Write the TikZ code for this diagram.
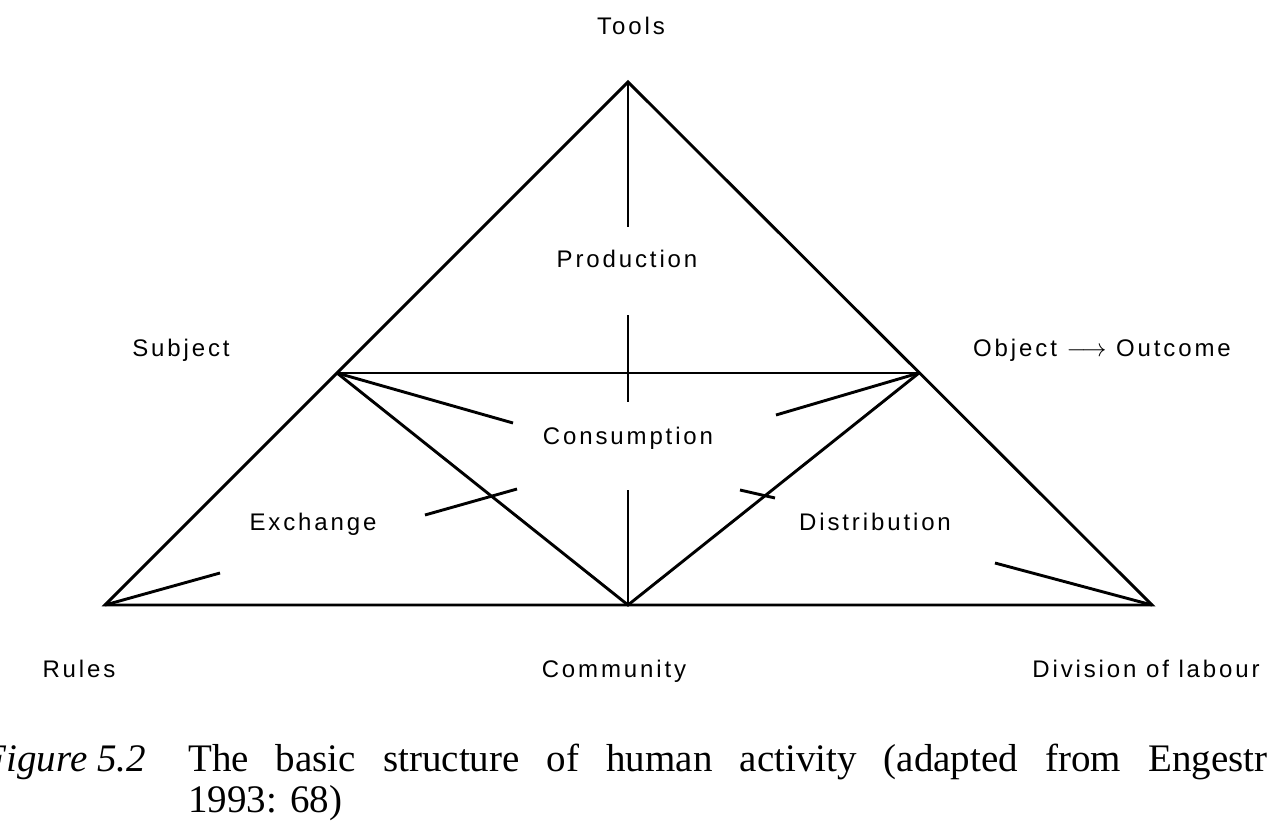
\documentclass[tikz,border=0pt]{standalone}
\usepackage{fontspec}
\newfontfamily\labfont[LetterSpace=12]{Liberation Sans}
\newfontfamily\capfont{Liberation Serif}
\begin{document}
\begin{tikzpicture}[x=1pt,y=-1pt,
  lab/.style={font=\labfont\fontsize{24}{28}\selectfont, inner sep=0pt, anchor=base},
  capt/.style={font=\capfont\fontsize{39}{42}\selectfont, inner sep=0pt},
  edge/.style={line width=2.9pt, line join=miter, line cap=butt}]
\useasboundingbox (0,0) rectangle (1268,834);
\clip (0,0) rectangle (1268,834);
\fill[white] (0,0) rectangle (1268,834);
% vertices
\coordinate (T) at (628,82);
\coordinate (L) at (105,605);
\coordinate (R) at (1152,605);
\coordinate (S) at (337,373);
\coordinate (O) at (919,373);
\coordinate (C) at (628,605);
% gap ends
\coordinate (v1) at (628,227);
\coordinate (v2) at (628,315);
\coordinate (v3) at (628,402);
\coordinate (v4) at (628,490);
\coordinate (sc) at (513,423);
\coordinate (oc) at (776,415);
\coordinate (e1) at (220,573);
\coordinate (e2) at (425,515);
\coordinate (e3) at (517,489);
\coordinate (d1) at (995,563);
\coordinate (d2) at (775,498);
\coordinate (d3) at (740,490);
% lines
\draw[edge] (T) -- (L) -- (R) -- cycle;
\draw[edge] (S) -- (O);
\draw[edge] (S) -- (C) -- (O);
\draw[edge] (T) -- (v1);
\draw[edge] (v2) -- (v3);
\draw[edge] (v4) -- (C);
\draw[edge] (S) -- (sc);
\draw[edge] (O) -- (oc);
\draw[edge] (L) -- (e1);
\draw[edge] (e2) -- (e3);
\draw[edge] (R) -- (d1);
\draw[edge] (d2) -- (d3);
% labels
\node[lab] (tools) at (631,35) {Tools};
\node[lab] (prod) at (627,268) {Production};
\node[lab] (subj) at (181,356) {Subject};
\node[lab, anchor=base west] (obj) at (973,356) {Object {\fontspec{Latin Modern Math}$\longrightarrow$} Outcome};
\node[lab] (cons) at (628,444) {Consumption};
\node[lab] (exch) at (313,530) {Exchange};
\node[lab] (dist) at (875,530) {Distribution};
\node[lab] (rules) at (79,677) {Rules};
\node[lab] (comm) at (614,677) {Community};
\node[lab] (div) at (1146,677) {Division of labour};
% caption
\node[capt, anchor=base east] (fig) at (146,771) {\itshape Figure 5.2};
\node[capt, anchor=base west] (cap1) at (188,771) {\makebox[1079pt][s]{The basic structure of human activity (adapted from Engestr}};
\node[capt, anchor=base west] (cap2) at (188,812) {1993: 68)};
\end{tikzpicture}
\end{document}
